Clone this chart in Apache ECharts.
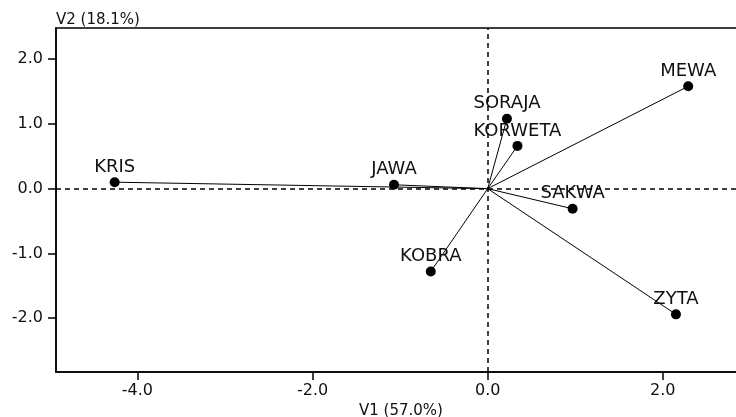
<!DOCTYPE html>
<html>
<head>
<meta charset="utf-8">
<script src="https://cdn.jsdelivr.net/npm/echarts@6/dist/echarts.min.js"></script>
<style>
  html, body { margin: 0; padding: 0; background: #fff; }
  #chart { width: 736px; height: 417px; }
</style>
</head>
<body>
<div id="chart"></div>
<script>
// odmiany i ich wspolrzedne na V1 / V2
const names = ['KRIS', 'JAWA', 'SORAJA', 'KORWETA', 'MEWA', 'SAKWA', 'KOBRA', 'ZYTA']
const v1 = [-4.26, -1.07, 0.22, 0.34, 2.29, 0.97, -0.65, 2.15]
const v2 = [0.10, 0.06, 1.08, 0.66, 1.58, -0.31, -1.28, -1.94]
const xTicks = [-4, -2, 0, 2]
const yTicks = [-2, -1, 0, 1, 2]

const chart = echarts.init(document.getElementById('chart'))

const points = names.map((n, i) => ({ name: n, value: [v1[i], v2[i]] }))
const rays = names.map((n, i) => ({ coords: [[0, 0], [v1[i], v2[i]]] }))

const tickFont = { color: '#111', fontFamily: 'DejaVu Sans', fontSize: 16 }

const option = {
  animation: false,
  grid: {
    left: 56,
    top: 28,
    width: 690,
    height: 344,
    outerBoundsMode: 'none',
    containLabel: false,
    show: true,
    borderColor: '#000',
    borderWidth: 1.5
  },
  xAxis: {
    type: 'value',
    min: -4.93,
    max: 2.95,
    name: 'V1 (57.0%)',
    nameLocation: 'middle',
    nameGap: 29,
    nameTextStyle: { color: '#111', fontFamily: 'DejaVu Sans', fontSize: 15 },
    axisLine: { show: true, onZero: false, lineStyle: { color: '#000', width: 1.5 } },
    axisTick: { show: true, length: 8, customValues: xTicks, lineStyle: { color: '#000', width: 1.5 } },
    axisLabel: Object.assign({ margin: 11, customValues: xTicks, formatter: v => v.toFixed(1) }, tickFont),
    splitLine: { show: false }
  },
  yAxis: {
    type: 'value',
    min: -2.83,
    max: 2.48,
    name: 'V2 (18.1%)',
    nameLocation: 'end',
    nameGap: 0,
    nameTextStyle: { color: '#111', fontFamily: 'DejaVu Sans', fontSize: 15, align: 'left', verticalAlign: 'bottom' },
    axisLine: { show: true, onZero: false, lineStyle: { color: '#000', width: 1.5 } },
    axisTick: { show: true, length: 8, customValues: yTicks, lineStyle: { color: '#000', width: 1.5 } },
    axisLabel: Object.assign({ margin: 13, customValues: yTicks, formatter: v => v.toFixed(1) }, tickFont),
    splitLine: { show: false }
  },
  series: [
    {
      type: 'lines',
      coordinateSystem: 'cartesian2d',
      silent: true,
      lineStyle: { color: '#000', width: 1, opacity: 1 },
      data: rays,
      z: 2
    },
    {
      type: 'scatter',
      symbol: 'circle',
      symbolSize: 10,
      itemStyle: { color: '#000', opacity: 1 },
      label: {
        show: true,
        position: 'top',
        distance: 1,
        formatter: '{b}',
        color: '#111',
        fontFamily: 'DejaVu Sans',
        fontSize: 18
      },
      data: points,
      markLine: {
        silent: true,
        symbol: 'none',
        label: { show: false },
        lineStyle: { color: '#000', width: 1.5, type: [5, 4] },
        data: [{ xAxis: 0 }, { yAxis: 0 }]
      },
      z: 3
    }
  ]
}

chart.setOption(option)
</script>
</body>
</html>
